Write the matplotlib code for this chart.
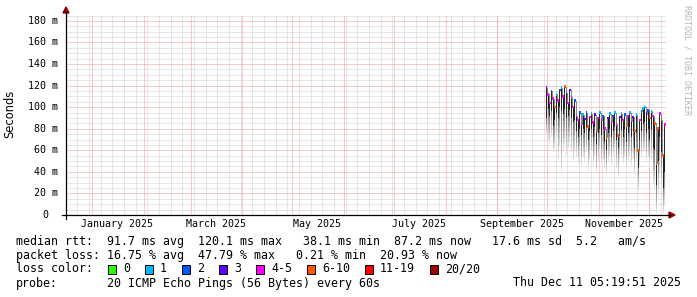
import numpy as np
import pandas as pd
import matplotlib
matplotlib.use('Agg')
import matplotlib.pyplot as plt
import matplotlib.dates as mdates
from matplotlib.patches import Polygon, Rectangle
from matplotlib.lines import Line2D
from matplotlib.transforms import blended_transform_factory
from datetime import datetime

W, H = 697, 297

# janela do grafico: ultimos 360 dias
t_fim = datetime(2025, 12, 11, 5, 19, 51)
t_ini = datetime(2024, 12, 16, 5, 19, 51)

# dados diarios (ms) a partir de 30/09/2025
dias = pd.date_range('2025-09-30', periods=72, freq='D')
mediana = [118, 112, 104, 115, 108, 100, 112, 106, 116, 118, 110, 119, 113, 104, 116, 109, 100, 106,
           92, 88, 95, 84, 93, 89, 95, 82, 91, 94, 86, 93, 78, 90, 95, 88, 92, 80, 72, 90,
           94, 86, 92, 95, 84, 74, 91, 94, 88, 93, 83, 92, 95, 87, 91, 78, 93, 60, 88, 96,
           99, 100, 94, 97, 90, 96, 92, 85, 48, 80, 94, 88, 55, 84]
nucleo = [90, 98, 92, 96, 83, 88, 95, 90, 100, 96, 94, 98, 90, 92, 97, 90, 86, 88,
          78, 72, 80, 74, 80, 76, 82, 70, 78, 80, 72, 82, 66, 76, 80, 74, 80, 68, 60, 76,
          80, 72, 78, 82, 70, 62, 78, 80, 72, 80, 68, 76, 82, 72, 78, 62, 76, 44, 70, 78,
          84, 86, 76, 80, 70, 80, 62, 60, 28, 50, 72, 58, 25, 40]
minimo = [75, 70, 66, 72, 58, 62, 68, 52, 64, 38, 60, 66, 56, 62, 68, 58, 50, 60,
          55, 48, 56, 45, 54, 50, 58, 42, 52, 56, 46, 55, 40, 50, 58, 48, 52, 44, 38, 50,
          56, 46, 54, 58, 44, 36, 52, 56, 48, 54, 42, 50, 56, 46, 52, 38, 50, 22, 46, 54,
          58, 60, 50, 54, 44, 52, 30, 26, 2, 20, 40, 24, 2, 10]
# pings perdidos (de 20) por dia
perdas = [3, 4, 5, 2, 4, 7, 1, 4, 2, 1, 4, 7, 2, 4, 3, 4, 5, 2,
          4, 5, 2, 4, 1, 3, 2, 7, 4, 1, 5, 3, 7, 4, 1, 5, 2, 4, 8, 3,
          1, 4, 2, 1, 5, 7, 3, 1, 4, 2, 7, 4, 1, 5, 3, 7, 1, 8, 4, 2,
          1, 1, 3, 2, 7, 1, 5, 7, 8, 7, 4, 7, 8, 4]

perda_rotulos = ['0', '1', '2', '3', '4-5', '6-10', '11-19', '20/20']
perda_cores = ['#26ff00', '#00b8ff', '#0059ff', '#5e00ff', '#ff00ff', '#ff5500', '#ff0000', '#a10000']
perda_lim = [0, 1, 2, 3, 5, 10, 19, 20]

y_ticks = [0, 20, 40, 60, 80, 100, 120, 140, 160, 180]
x_rotulos = ['January 2025', 'March 2025', 'May 2025', 'July 2025', 'September 2025', 'November 2025']
x_meses = [1, 3, 5, 7, 9, 11]

txt_rtt = "median rtt:  91.7 ms avg  120.1 ms max   38.1 ms min  87.2 ms now   17.6 ms sd  5.2   am/s"
txt_loss = "packet loss: 16.75 % avg  47.79 % max   0.21 % min  20.93 % now"
txt_probe = "20 ICMP Echo Pings (56 Bytes) every 60s"
txt_data = "Thu Dec 11 05:19:51 2025"

MONO = 'DejaVu Sans Mono'


def fx(x):
    return x / W


def fy(y):
    return 1 - y / H


fig = plt.figure(figsize=(W / 100, H / 100), dpi=100)
fig.patch.set_facecolor('white')
ax = fig.add_axes([fx(66), fy(215), 600 / W, 200 / H])
x0, x1 = mdates.date2num(t_ini), mdates.date2num(t_fim)
ax.set_xlim(x0, x1)
ax.set_ylim(0, 185.5)
for s in ax.spines.values():
    s.set_visible(False)

# ---- grade pontilhada ----
ls_pt = (0, (1, 1))
menores = [v for v in np.arange(5, 186, 5) if v % 20 != 0]
maiores = [v for v in np.arange(20, 186, 20)]
segundas = mdates.date2num(pd.date_range(t_ini.date(), t_fim, freq='W-MON'))
inicios = mdates.date2num(pd.date_range('2025-01-01', t_fim, freq='MS'))
g = dict(linestyles=ls_pt, lw=0.72)
ax.hlines(menores, x0, x1, colors='#cfcfcf', zorder=0, **g)
ax.vlines(segundas, 0, 185.5, colors='#cfcfcf', zorder=0, **g)
ax.hlines(maiores, x0, x1, colors='#ee9a9a', zorder=1, **g)
ax.vlines(inicios, 0, 185.5, colors='#ee9a9a', zorder=1, **g)

# ---- fumaca ----
xd = mdates.date2num(dias) + 0.5
med = np.array(mediana, float)
nuc = np.array(nucleo, float)
mn = np.array(minimo, float)
nb = 6
cinzas = np.linspace(0.88, 0.5, nb)
for k in range(nb):
    b = mn + (nuc - mn) * k / nb
    t = mn + (nuc - mn) * (k + 1) / nb
    ax.bar(xd, t - b, bottom=b, width=0.45, color=str(cinzas[k]), lw=0, zorder=2)
ax.bar(xd, med - nuc, bottom=nuc, width=0.5, color='#222222', lw=0, zorder=3)
ax.step(xd, med, where='mid', color='#303030', lw=0.4, zorder=4)

cores = [perda_cores[next(i for i, l in enumerate(perda_lim) if p <= l)] for p in perdas]
ax.bar(xd, 2.4, bottom=med - 1.2, width=0.9, color=cores, lw=0, zorder=5)

# ---- eixos ----
ax.set_xticks(mdates.date2num([datetime(2025, m, 16) for m in x_meses]), x_rotulos,
              family=MONO, size=7.2)
ax.tick_params(axis='x', length=0, pad=2.8)
ax.set_yticks([])
trans = blended_transform_factory(fig.transFigure, ax.transData)
for v in y_ticks:
    ax.text(fx(58) if v else fx(48), v, f'{v} m' if v else '0', transform=trans,
            ha='right', va='center', family=MONO, size=7.2)

fig.add_artist(Line2D([fx(62), fx(670)], [fy(215), fy(215)], color='black', lw=0.9))
fig.add_artist(Line2D([fx(66), fx(66)], [fy(219), fy(12)], color='black', lw=0.9))
fig.add_artist(Polygon([(fx(669), fy(212)), (fx(675), fy(215)), (fx(669), fy(218))],
                       closed=True, color='#8b0000', transform=fig.transFigure))
fig.add_artist(Polygon([(fx(63), fy(13)), (fx(66), fy(7)), (fx(69), fy(13))],
                       closed=True, color='#8b0000', transform=fig.transFigure))

fig.text(fx(10), fy(114), 'Seconds', rotation=90, ha='center', va='center',
         family='DejaVu Sans', size=8.3)
fig.text(fx(687), fy(60), 'RRDTOOL / TOBI OETIKER', rotation=270, ha='center', va='center',
         family=MONO, size=6, color='#b4b4b4')

# ---- legenda ----
LEG = 8.4
fig.text(fx(16), fy(241), txt_rtt, family=MONO, size=LEG, va='center')
fig.text(fx(16), fy(255), txt_loss, family=MONO, size=LEG, va='center')
fig.text(fx(16), fy(269), 'loss color:', family=MONO, size=LEG, va='center')
bx = 108
for rot, cor in zip(perda_rotulos, perda_cores):
    fig.add_artist(Rectangle((fx(bx), fy(273.5)), 8 / W, 9 / H, fc=cor, ec='black', lw=0.7,
                             transform=fig.transFigure))
    fig.text(fx(bx + 15), fy(269), rot, family=MONO, size=LEG, va='center')
    bx = bx + 15 + 7 * len(rot) + 15
fig.text(fx(16), fy(283), 'probe:', family=MONO, size=LEG, va='center')
fig.text(fx(107), fy(283), txt_probe, family=MONO, size=LEG, va='center')
fig.text(fx(681), fy(283), txt_data, family=MONO, size=LEG, va='center', ha='right')

fig.savefig('out.png', dpi=100)
